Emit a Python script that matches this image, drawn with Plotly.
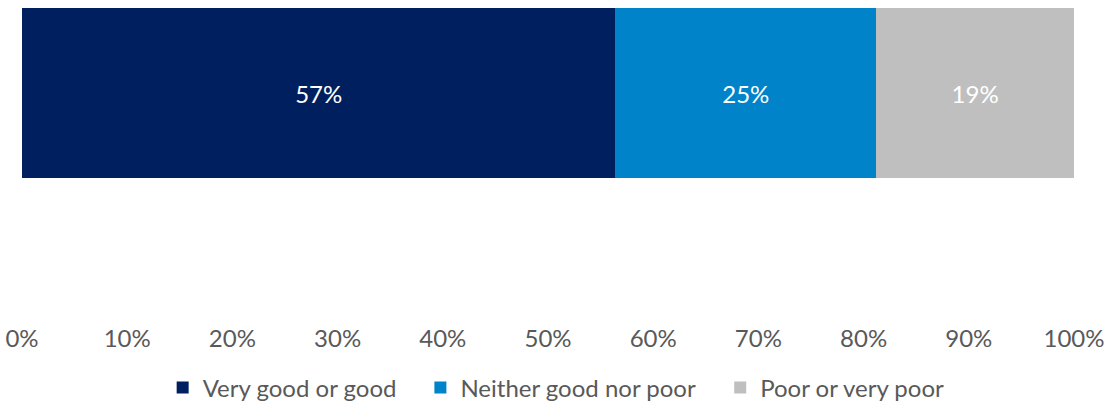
import plotly.graph_objects as go

categories = [""]
series_names = ["Very good or good", "Neither good nor poor", "Poor or very poor"]
series_values = [56.4, 24.8, 18.8]
series_labels = ["57%", "25%", "19%"]
series_colors = ["#001F5F", "#0083C9", "#BFBFBF"]
tick_values = [0, 10, 20, 30, 40, 50, 60, 70, 80, 90, 100]
tick_labels = [f"{v}%" for v in tick_values]

# legend placement (paper x of each entry's box left edge)
legend_ids = ["legend", "legend2", "legend3"]
legend_x = [0.1337, 0.3787, 0.6637]

fig = go.Figure()
for name, val, lab, col, lg in zip(series_names, series_values, series_labels, series_colors, legend_ids):
    fig.add_trace(go.Bar(
        y=[0], x=[val], name=name, orientation="h", width=1,
        marker=dict(color=col, line=dict(width=0)),
        text=[lab], textposition="inside", insidetextanchor="middle",
        textfont=dict(family="Lato", size=24, color="white"),
        legend=lg,
    ))

legend_common = dict(orientation="h", xanchor="left", y=-0.21, yanchor="middle",
                     font=dict(family="Lato", size=24, color="#595959"),
                     bgcolor="rgba(0,0,0,0)")

fig.update_layout(
    barmode="stack",
    width=1105, height=405,
    margin=dict(l=22, r=31, t=8, b=83, autoexpand=False),
    paper_bgcolor="white", plot_bgcolor="white",
    font=dict(family="Lato", size=24, color="#595959"),
    xaxis=dict(range=[0, 100], tickvals=tick_values, ticktext=tick_labels,
               showgrid=False, zeroline=False, showline=False, ticks="",
               ticklabeloverflow="allow",
               tickfont=dict(family="Lato", size=24, color="#595959")),
    yaxis=dict(range=[-1.347, 0.5], showticklabels=False, showgrid=False,
               zeroline=False, showline=False),
    legend=dict(x=legend_x[0], **legend_common),
    legend2=dict(x=legend_x[1], **legend_common),
    legend3=dict(x=legend_x[2], **legend_common),
    showlegend=True,
)

fig.write_html("out.html", config={"displayModeBar": False},
               post_script="document.body.style.margin='0px';")
